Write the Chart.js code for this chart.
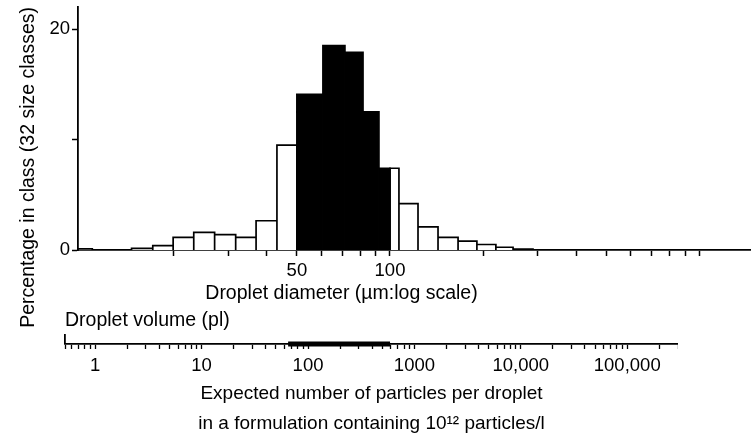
<!DOCTYPE html>
<html><head><meta charset="utf-8">
<script src="https://cdn.jsdelivr.net/npm/chart.js@4.4.1/dist/chart.umd.min.js"></script>
<style>
html,body{margin:0;padding:0;background:#fff;}
#wrap{position:relative;width:751px;height:444px;overflow:hidden;background:#fff;}
#c1{position:absolute;left:0;top:0;}
#c2{position:absolute;left:5px;top:270px;}
</style></head><body>
<div id="wrap"><canvas id="c1" width="751" height="340"></canvas><canvas id="c2" width="673" height="174"></canvas></div>
<script>
// ---- data ----
const classEdges = [9.8, 10.9, 12.6, 14.6, 17.1, 19.9, 23.2, 27.1, 31.7, 36.9, 43.1, 50, 60.7, 71.5, 81.8, 92.1, 106.9, 123.2, 143, 166, 191, 220, 250, 290];
const percentInClass = [0.1, 0, 0, 0.15, 0.4, 1.15, 1.6, 1.4, 1.15, 2.65, 9.5, 14.1, 18.5, 17.9, 12.5, 7.4, 4.2, 2.1, 1.15, 0.8, 0.5, 0.25, 0.08];
const highlightRange = [50, 100];           // µm, classes drawn black
const diameterTicks = [20, 30, 40, 50, 60, 70, 80, 90, 100, 200, 300, 400, 500, 600, 700, 800, 900, 1000];
const diameterLabels = [50, 100];
const percentTicks = [0, 10, 20];
const percentLabels = [0, 20];
const volumeTicks = [0.52, 0.6, 0.7, 0.8, 0.9, 1, 2, 3, 4, 5, 6, 7, 8, 9, 10, 20, 30, 40, 50, 60, 70, 80, 90,
  100, 200, 300, 400, 500, 600, 700, 800, 900, 1000, 2000, 3000, 4000, 5000, 6000, 7000, 8000, 9000,
  10000, 20000, 30000, 40000, 50000, 60000, 70000, 80000, 90000, 100000, 200000, 300000];
const volumeLabelValues = [1, 10, 100, 1000, 10000, 100000];
const volumeLabelText = ['1', '10', '100', '1000', '10,000', '100,000'];
const volumeRange = [65, 590];               // pl, thick bar on volume axis

Chart.defaults.font.family = "'Liberation Sans', Arial, Helvetica, sans-serif";
Chart.defaults.color = '#000';

function rects(black) {
  const pts = [];
  const lo = highlightRange[0], hi = highlightRange[1];
  for (let i = 0; i < percentInClass.length; i++) {
    const v = percentInClass[i];
    if (!v) continue;
    const a = classEdges[i], b = classEdges[i + 1];
    const cuts = [a, ...[lo, hi].filter(c => c > a && c < b), b];
    for (let k = 0; k < cuts.length - 1; k++) {
      const mid = Math.sqrt(cuts[k] * cuts[k + 1]);
      const inside = mid >= lo && mid <= hi;
      if (inside === black) {
        pts.push({x: cuts[k], y: 0}, {x: cuts[k], y: v}, {x: cuts[k + 1], y: v}, {x: cuts[k + 1], y: 0}, {x: cuts[k + 1], y: null});
      }
    }
  }
  return pts;
}

const barStyle = {fill: 'origin', borderColor: '#000', borderWidth: 1.7, pointRadius: 0, spanGaps: false, tension: 0, borderJoinStyle: 'miter'};

new Chart(document.getElementById('c1'), {
  type: 'line',
  data: {datasets: [
    Object.assign({data: rects(true), backgroundColor: '#000'}, barStyle),
    Object.assign({data: rects(false), backgroundColor: '#fff'}, barStyle)
  ]},
  options: {
    responsive: false, animation: false, devicePixelRatio: 1,
    layout: {padding: {top: 7, left: 0, right: 0, bottom: 0}},
    plugins: {legend: {display: false}, tooltip: {enabled: false}},
    scales: {
      x: {
        type: 'logarithmic', min: 9.8, max: 1470,
        afterBuildTicks(s) { s.ticks = diameterTicks.map(v => ({value: v})); },
        ticks: {autoSkip: false, maxRotation: 0, padding: 4, font: {size: 18.5},
          callback: v => diameterLabels.includes(v) ? String(v) : ''},
        grid: {drawOnChartArea: false, tickLength: 6, tickColor: '#000', tickWidth: 1.5},
        border: {color: '#000', width: 1.8},
        afterFit(s) { s.height = 90; s.paddingLeft = 0; s.paddingRight = 0; }
      },
      y: {
        min: 0, max: 22,
        afterBuildTicks(s) { s.ticks = percentTicks.map(v => ({value: v})); },
        ticks: {autoSkip: false, padding: 2, font: {size: 18.5},
          callback: v => percentLabels.includes(v) ? String(v) : ''},
        grid: {drawOnChartArea: false, tickLength: 6, tickColor: '#000', tickWidth: 1.5},
        border: {color: '#000', width: 1.8},
        title: {display: true, text: 'Percentage in class (32 size classes)', align: 'end',
          font: {size: 19.5}, padding: {top: 17, bottom: 0}},
        afterFit(s) { s.width = 78; s.paddingTop = 0; s.paddingBottom = 0; }
      }
    }
  }
});

new Chart(document.getElementById('c2'), {
  type: 'line',
  data: {datasets: [{
    data: volumeRange.map(v => ({x: v, y: 0})),
    borderColor: '#000', borderWidth: 5, pointRadius: 0, clip: false, borderCapStyle: 'butt', fill: false
  }]},
  options: {
    responsive: false, animation: false, devicePixelRatio: 1,
    layout: {padding: 0},
    plugins: {
      legend: {display: false}, tooltip: {enabled: false},
      title: {display: true, text: 'Droplet diameter (µm:log scale)', align: 'center', fullSize: true,
        font: {size: 19.5, weight: 'normal'}, padding: {top: 12, bottom: 0}, color: '#000'},
      subtitle: {display: true, text: 'Droplet volume (pl)', align: 'start', fullSize: false,
        font: {size: 19.5, weight: 'normal'}, padding: {top: 4, bottom: 2}, color: '#000'}
    },
    scales: {
      x: {
        type: 'logarithmic', min: 0.52, max: 300000,
        afterBuildTicks(s) { s.ticks = volumeTicks.map(v => ({value: v})); },
        ticks: {autoSkip: false, maxRotation: 0, padding: 6, font: {size: 18.5},
          callback: v => { const i = volumeLabelValues.indexOf(v); return i >= 0 ? volumeLabelText[i] : ''; }},
        grid: {drawOnChartArea: false, tickLength: 5, tickColor: '#000', tickWidth: 1.3},
        border: {color: '#000', width: 1.8},
        title: {display: true,
          text: ['Expected number of particles per droplet', 'in a formulation containing 10¹² particles/l'],
          font: {size: 19, lineHeight: 1.58}, padding: {top: 0, bottom: 5}},
        afterFit(s) { s.height = 100; s.paddingLeft = 0; s.paddingRight = 0; }
      },
      y: {
        min: 0, max: 1,
        ticks: {display: false},
        grid: {drawOnChartArea: false, drawTicks: false, color: 'rgba(0,0,0,0)'},
        border: {display: true, color: '#000', width: 1.8},
        afterFit(s) { s.width = 60; s.paddingTop = 0; s.paddingBottom = 0; }
      }
    }
  }
});
</script>
</body></html>
